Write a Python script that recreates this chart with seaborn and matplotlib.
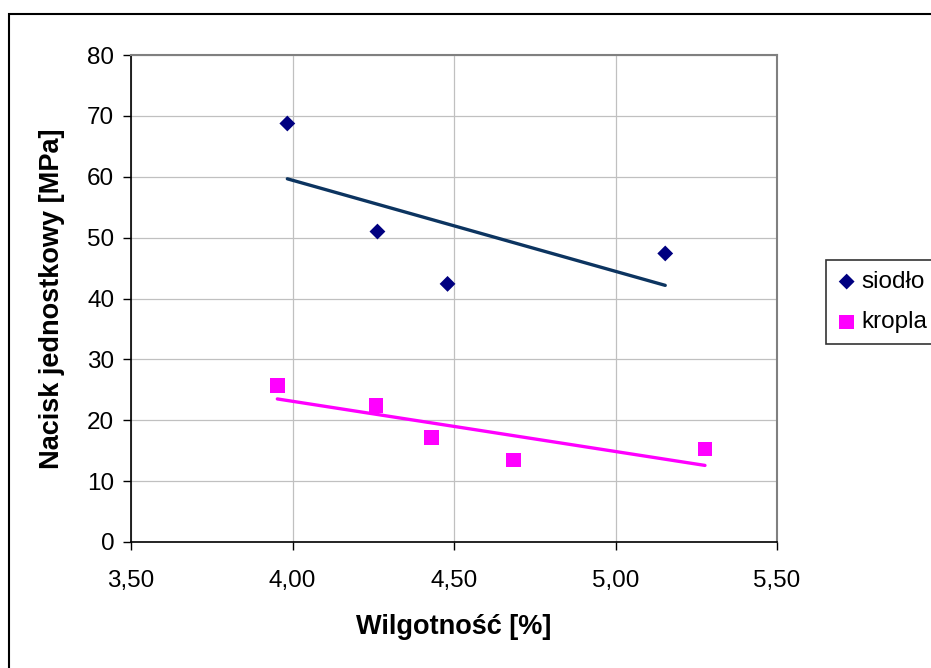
import pandas as pd
import seaborn as sns
import matplotlib
matplotlib.use("Agg")
import matplotlib.pyplot as plt
from matplotlib.patches import Rectangle
from matplotlib.ticker import FuncFormatter, MultipleLocator

# siodło series
siodlo_x = [3.984, 4.263, 4.480, 5.154]
siodlo_y = [68.75, 51.0, 42.4, 47.4]
# kropla series
kropla_x = [3.953, 4.258, 4.431, 4.684, 5.277]
kropla_y = [25.7, 22.4, 17.2, 13.5, 15.3]

sns.set_style("white", {'text.color': 'black', 'axes.labelcolor': 'black',
                        'xtick.color': 'black', 'ytick.color': 'black'})
plt.rcParams['font.family'] = ['Liberation Sans', 'DejaVu Sans']

fig = plt.figure(figsize=(9.31, 6.68), dpi=100)
ax = fig.add_axes([131/931, 1-542/668, (777-131)/931, (542-55)/668])

df_s = pd.DataFrame({'x': siodlo_x, 'y': siodlo_y})
df_k = pd.DataFrame({'x': kropla_x, 'y': kropla_y})

# trend lines (linear fit)
sns.regplot(data=df_s, x='x', y='y', scatter=False, ci=None, ax=ax,
            line_kws=dict(color='#0c3460', lw=2.4))
sns.regplot(data=df_k, x='x', y='y', scatter=False, ci=None, ax=ax,
            line_kws=dict(color='#ff00ff', lw=2.4))

sns.scatterplot(data=df_s, x='x', y='y', marker='D', s=65, color='#000080',
                edgecolor='none', label='siodło', ax=ax, zorder=5)
sns.scatterplot(data=df_k, x='x', y='y', marker='s', s=110, color='#ff00ff',
                edgecolor='none', label='kropla', ax=ax, zorder=5)

ax.set_xlim(3.5, 5.5)
ax.set_ylim(0, 80)
ax.xaxis.set_major_locator(MultipleLocator(0.5))
ax.yaxis.set_major_locator(MultipleLocator(10))
ax.xaxis.set_major_formatter(FuncFormatter(lambda v, p: f"{v:.2f}".replace('.', ',')))
ax.yaxis.set_major_formatter(FuncFormatter(lambda v, p: f"{v:.0f}"))
ax.grid(True, color='#c0c0c0', lw=0.9)
ax.set_axisbelow(True)

for side in ['top', 'right']:
    ax.spines[side].set_color('#808080')
    ax.spines[side].set_linewidth(1.5)
for side in ['left', 'bottom']:
    ax.spines[side].set_color('black')
    ax.spines[side].set_linewidth(1.2)

ax.tick_params(axis='both', direction='out', length=6, width=1, color='black',
               labelcolor='black', labelsize=17.5, pad=6, bottom=True, left=True)
ax.tick_params(axis='x', pad=14)

ax.set_xlabel('Wilgotność [%]', fontsize=19.5, fontweight='bold', labelpad=16)
ax.set_ylabel('Nacisk jednostkowy [MPa]', fontsize=19.5, fontweight='bold', labelpad=16)

handles, labels = ax.get_legend_handles_labels()
ax.get_legend().remove()
leg = fig.legend(handles, labels, loc='upper left',
                 bbox_to_anchor=(826/931, 1-260/668), fontsize=17.5,
                 frameon=True, fancybox=False, edgecolor='black',
                 handletextpad=0.2, borderpad=0.45, labelspacing=0.75,
                 handlelength=0.8, borderaxespad=0)
leg.get_frame().set_linewidth(1.2)

# outer chart border
fig.patches.append(Rectangle((9/931, -0.05), 2, 1-14/668+0.05,
                             transform=fig.transFigure, fill=False,
                             edgecolor='black', lw=1.5))

fig.savefig('out.png', dpi=100)
